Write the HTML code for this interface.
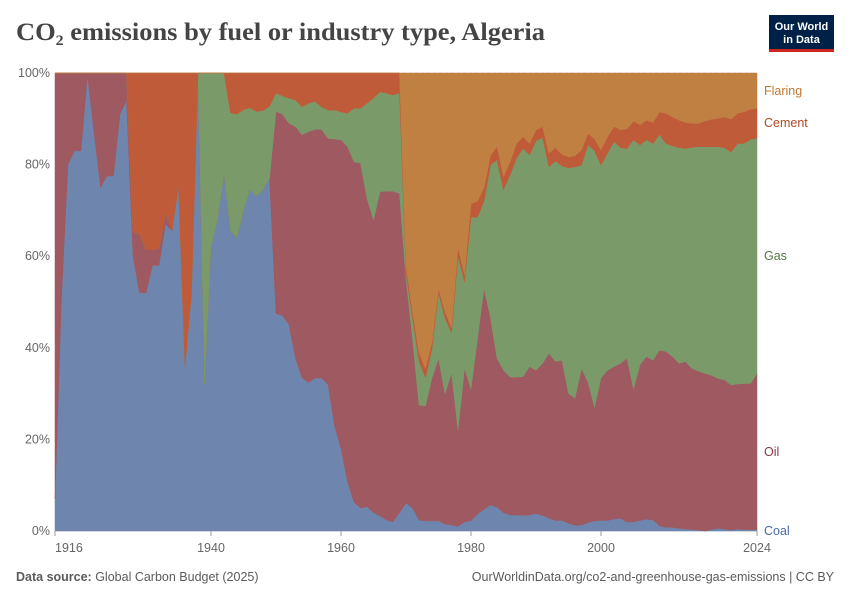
<!DOCTYPE html>
<html><head><meta charset="utf-8"><style>
body{margin:0;background:#fff;font-family:"Liberation Sans",sans-serif}
#wrap{position:relative;width:850px;height:600px;overflow:hidden}
</style></head><body>
<div id="wrap">
<svg id="svg" width="850" height="600" xmlns="http://www.w3.org/2000/svg">
<text x="16" y="40" font-family="Liberation Serif, serif" font-weight="bold" font-size="25" fill="#444" textLength="529" lengthAdjust="spacingAndGlyphs">CO<tspan font-size="15" dy="5">2</tspan><tspan dy="-5"> emissions by fuel or industry type, Algeria</tspan></text>
<g>
<rect x="769" y="15" width="65" height="37" fill="#002147"/>
<rect x="769" y="49" width="65" height="3" fill="#ce261e"/>
<text x="801.5" y="30" text-anchor="middle" font-size="11" font-weight="bold" fill="#fff">Our World</text>
<text x="801.5" y="43" text-anchor="middle" font-size="11" font-weight="bold" fill="#fff">in Data</text>
</g>
<g id="grid"></g>
<g id="areas"></g>
<g id="axes"></g>
<g id="legend"></g>
<text x="16" y="581" font-size="12.5" fill="#5b5b5b"><tspan font-weight="bold">Data source:</tspan> Global Carbon Budget (2025)</text>
<text x="834" y="581" text-anchor="end" font-size="12.5" fill="#5b5b5b">OurWorldinData.org/co2-and-greenhouse-gas-emissions | CC BY</text>
</svg>
</div>
<script>
const years = [];
for (let y = 1916; y <= 2024; y++) years.push(y);
const coal = [7,51,80,83,83,99.6,87,75,77.5,77.5,91,94,60,52,52,58,58,67,65.5,75.5,36,52,100,32,62,68,78,65.5,64,70,74.5,73,74.5,77,47.5,47,45,37.7,33.4,32.4,33.4,33.4,32,23,18,10.8,6.3,5,5.3,4,3.3,2.4,2,4,6.1,5,2.4,2.2,2.2,2.2,1.5,1.3,1,2,2.2,3.7,4.7,5.7,5.2,4,3.5,3.5,3.4,3.5,3.8,3.4,2.8,2.3,2.3,1.7,1.2,1.3,1.8,2.2,2.3,2.3,2.6,2.8,1.9,2,2.3,2.6,2.4,1.1,0.8,0.8,0.6,0.4,0.3,0.2,0,0.3,0.6,0.4,0.2,0.4,0.3,0.3,0.3];
const oil = [93,49,20,17,17,0.4,13,25,22.5,22.5,9,6,5.3,13,9.4,3.4,3.7,2.7,0,0,0,0,0,0,0,0,0,0,0,0,0,0,0,0,44.1,44,44,50.6,53.1,54.8,54.3,54.3,53.7,62.6,67.4,73.1,74.3,75.3,67.3,63.9,70.8,71.8,72.2,69.7,48.9,37,25.1,25.1,31.2,35.5,28.5,33.2,21,33.5,28.8,38.3,48.3,40.8,32.5,31.1,30.1,30.1,30.3,32.4,31.3,33.2,36,34.7,35,28.3,27.8,34.2,30.7,24.8,31.1,32.8,33.3,33.8,35.8,29,34,35.5,34.9,38.4,38.4,37.3,36,36.6,35.2,34.7,34.4,33.7,32.7,32.6,31.7,31.7,31.9,31.9,34.1];
const gas = [0,0,0,0,0,0,0,0,0,0,0,0,0,0,0,0,0,0,0,0,0,0,0,68,38,32,22,25.8,27,22,17.9,18.6,17.3,15.7,4,4,5.5,5.8,6.1,6.2,6.1,4.9,6.2,6.3,6.1,7.3,11.7,12,20.8,26.6,21.8,21.4,21,21.9,1.5,4.5,9.5,6.2,6.5,14.3,16.5,8.8,38,18.9,37.6,26.5,19,33.4,43.3,39.4,44.1,47.8,49.8,46.2,50.1,49.3,40.7,43.8,42.4,49.3,50.5,44.4,51.8,56,46.5,47.4,49.1,47.1,45.8,54.4,48,47.3,47.3,47.1,45.4,46,47.1,46.5,48.3,49,49.5,49.9,50.6,50.7,50.8,52.5,52.4,53.3,51.4];
const cement = [0,0,0,0,0,0,0,0,0,0,0,0,34.7,35,38.6,38.6,38.3,30.3,34.5,24.5,64,48,0,0,0,0,0,8.7,9,8,7.6,8.4,8.2,7.3,4.4,5,5.5,5.9,7.4,6.6,6.2,7.4,8.1,8.1,8.5,8.8,7.7,7.7,6.6,5.5,4.1,4.4,4.8,4.4,1.5,1.5,2,2,1.4,1,1.4,1.1,2,1.5,2.9,3.5,3,2.1,3,2.9,2.9,3.2,2.6,2.5,2.4,2.4,3,2.9,2.5,2.4,2.4,3.3,2.5,2.6,3.3,3.6,3.3,3.9,4.3,4.1,4.4,4.3,4.6,4.9,6.6,6.3,6,5.7,5.2,5.1,5.6,6,6.2,6.7,7.2,6.6,6.9,6.6,6.5];
const flaring = [0,0,0,0,0,0,0,0,0,0,0,0,0,0,0,0,0,0,0,0,0,0,0,0,0,0,0,0,0,0,0,0,0,0,0,0,0,0,0,0,0,0,0,0,0,0,0,0,0,0,0,0,0,0,42,52,61,64.5,58.7,47,52.1,55.6,38,44.1,28.5,28,25,18,16,22.6,19.4,15.4,13.9,15.4,12.4,11.7,17.5,16.3,17.8,18.3,18.1,16.8,13.2,14.4,16.8,13.9,11.7,12.4,12.2,10.5,11.3,10.3,10.8,8.5,8.8,9.6,10.3,10.8,11,11,10.5,10.1,9.9,9.6,10.1,8.8,8.5,7.9,7.7];
const yTicks = [0,20,40,60,80,100];
const xTicks = [1916,1940,1960,1980,2000,2024];
const seriesNames = ["Coal","Oil","Gas","Cement","Flaring"];

const NS = "http://www.w3.org/2000/svg";
const X0 = 55, X1 = 757, Y0 = 531, Y1 = 73;
function xs(y){ return X0 + (y - years[0]) / (years[years.length-1] - years[0]) * (X1 - X0); }
function ys(v){ return Y0 - v / 100 * (Y0 - Y1); }
function mk(tag, attrs){ const e = document.createElementNS(NS, tag); for (const k in attrs) e.setAttribute(k, attrs[k]); return e; }

const grid = document.getElementById('grid');
const axes = document.getElementById('axes');
yTicks.forEach(t => {
  const l = mk('line', {x1: X0, x2: X1, y1: ys(t), y2: ys(t), stroke: '#ddd', 'stroke-dasharray': t === 0 ? '' : '3,3'});
  
  
  grid.appendChild(l);
  const tx = mk('text', {x: 50, y: ys(t) + 4, 'text-anchor': 'end', 'font-size': 12.5, fill: '#666'});
  tx.textContent = t + '%';
  
  
  axes.appendChild(tx);
});
xTicks.forEach(t => {
  const l = mk('line', {x1: xs(t), x2: xs(t), y1: Y0, y2: Y0 + 5, stroke: '#999'});
  
  
  axes.appendChild(l);
  const anchor = t === xTicks[0] ? 'start' : 'middle';
  const tx = mk('text', {x: xs(t), y: 552, 'text-anchor': anchor, 'font-size': 12.5, fill: '#666'});
  tx.textContent = t;
  
  
  axes.appendChild(tx);
});

const series = [coal, oil, gas, cement, flaring];
const colors = ['#6e86ae', '#9e5961', '#7a9a6a', '#c05b39', '#c08042'];
const labelColors = ['#4a6aa0', '#883a45', '#4d7a3e', '#b04a25', '#c0782f'];
const areas = document.getElementById('areas');
let base = years.map(() => 0);
series.forEach((s, si) => {
  const top = years.map((y, i) => base[i] + s[i]);
  let d = 'M' + years.map((y, i) => xs(y).toFixed(2) + ',' + ys(Math.min(100, top[i])).toFixed(2)).join('L');
  for (let i = years.length - 1; i >= 0; i--) d += 'L' + xs(years[i]).toFixed(2) + ',' + ys(Math.min(100, base[i])).toFixed(2);
  d += 'Z';
  const p = mk('path', {d: d, fill: colors[si], stroke: colors[si], 'stroke-width': 0.5});
  
  
  areas.appendChild(p);
  base = top;
});
const legend = document.getElementById('legend');
const legendY = [535, 456, 260, 127, 95];
seriesNames.forEach((n, i) => {
  const t = mk('text', {x: 764, y: legendY[i], 'font-size': 12.5, fill: labelColors[i]});
  t.textContent = n;
  
  
  legend.appendChild(t);
});
</script>
</body></html>
